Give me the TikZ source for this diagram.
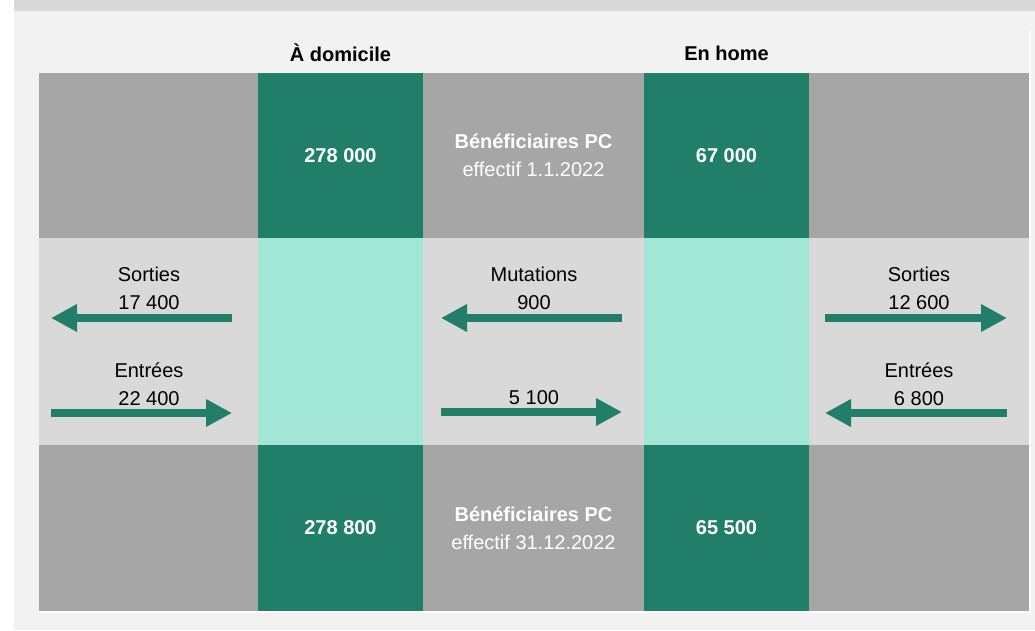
\documentclass[tikz,border=0pt]{standalone}
\usepackage{fontspec}
\setmainfont{Liberation Sans}
\usetikzlibrary{arrows.meta}

\definecolor{pcgreen}{RGB}{33,127,105}
\definecolor{pcmint}{RGB}{162,230,214}
\definecolor{pcgray}{RGB}{166,166,166}
\definecolor{pclight}{RGB}{217,217,217}
\definecolor{pcback}{RGB}{242,242,242}

\begin{document}
\begin{tikzpicture}[x=1pt,y=-1pt,
cell/.style={rectangle,inner sep=0pt,outer sep=0pt,minimum width=#1},
toprow/.style={minimum height=165pt},
midrow/.style={minimum height=207pt},
botrow/.style={minimum height=166pt},
stock/.style={text=white,font=\fontsize{20}{28}\selectfont\bfseries},
info/.style={text=white,align=center,font=\fontsize{20}{28}\selectfont},
label/.style={align=center,font=\fontsize{20}{28}\selectfont},
header/.style={font=\fontsize{20}{28}\selectfont\bfseries},
flow/.style={line width=8pt,pcgreen,-{Triangle[length=26pt,width=26pt]}}]

\useasboundingbox (0,0) rectangle (1035,630);
\fill[pcback] (14,0) rectangle (1035,630);
\fill[pclight] (14,0) rectangle (1035,11);

% top row: 1.1.2022
\node[cell=219pt,toprow,fill=pcgray] (outL1) at (148.5,155.5) {};
\node[cell=165pt,toprow,fill=pcgreen,stock] (dom1) at (340.5,155.5) {278 000};
\node[cell=221pt,toprow,fill=pcgray,info] (mid1) at (533.5,155.5) {\textbf{Bénéficiaires PC}\\effectif 1.1.2022};
\node[cell=165pt,toprow,fill=pcgreen,stock] (home1) at (726.5,155.5) {67 000};
\node[cell=220pt,toprow,fill=pcgray] (outR1) at (919,155.5) {};

% middle row: flows
\node[cell=219pt,midrow,fill=pclight] (outL) at (148.5,341.5) {};
\node[cell=165pt,midrow,fill=pcmint] (dom) at (340.5,341.5) {};
\node[cell=221pt,midrow,fill=pclight] (mid) at (533.5,341.5) {};
\node[cell=165pt,midrow,fill=pcmint] (home) at (726.5,341.5) {};
\node[cell=220pt,midrow,fill=pclight] (outR) at (919,341.5) {};

% bottom row: 31.12.2022
\node[cell=219pt,botrow,fill=pcgray] (outL2) at (148.5,528) {};
\node[cell=165pt,botrow,fill=pcgreen,stock] (dom2) at (340.5,528) {278 800};
\node[cell=221pt,botrow,fill=pcgray,info] (mid2) at (533.5,528) {\textbf{Bénéficiaires PC}\\effectif 31.12.2022};
\node[cell=165pt,botrow,fill=pcgreen,stock] (home2) at (726.5,528) {65 500};
\node[cell=220pt,botrow,fill=pcgray] (outR2) at (919,528) {};

\draw[white,line width=2pt] (1030,31) -- (1030,612) -- (39,612);

\node[header] (hdom) at (340.5,53) {À domicile};
\node[header] (hhome) at (726.5,53) {En home};

\node[label] (sortL) at (149,288) {Sorties\\17 400};
\node[label] (entL) at (149,384) {Entrées\\22 400};
\node[label] (mutA) at (534,288) {Mutations\\900};
\node[label] (mutB) at (534,398) {5 100};
\node[label] (sortR) at (919,288) {Sorties\\12 600};
\node[label] (entR) at (919,384) {Entrées\\6 800};

\coordinate (sL1) at (232,318); \coordinate (sL2) at (51,318);
\coordinate (eL1) at (51,413);  \coordinate (eL2) at (232,413);
\coordinate (mA1) at (622,318); \coordinate (mA2) at (441,318);
\coordinate (mB1) at (441,412); \coordinate (mB2) at (622,412);
\coordinate (sR1) at (825,318); \coordinate (sR2) at (1007,318);
\coordinate (eR1) at (1007,413); \coordinate (eR2) at (825,413);

\draw[flow] (sL1) -- (sL2);
\draw[flow] (eL1) -- (eL2);
\draw[flow] (mA1) -- (mA2);
\draw[flow] (mB1) -- (mB2);
\draw[flow] (sR1) -- (sR2);
\draw[flow] (eR1) -- (eR2);

\end{tikzpicture}
\end{document}
